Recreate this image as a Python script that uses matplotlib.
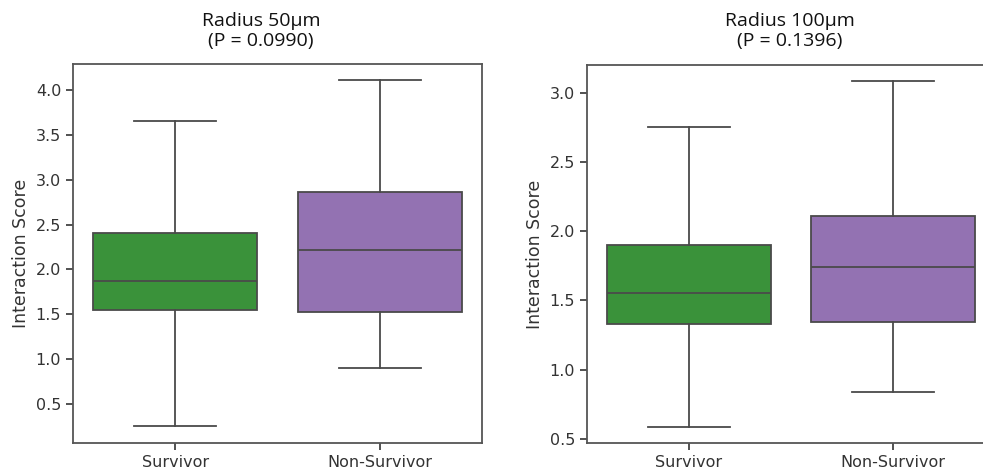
import matplotlib
matplotlib.use("Agg")
import matplotlib.pyplot as plt

# box statistics
groups = ["Survivor", "Non-Survivor"]

r50_whislo = [0.26, 0.90]
r50_q1 = [1.545, 1.52]
r50_med = [1.875, 2.22]
r50_q3 = [2.41, 2.86]
r50_whishi = [3.66, 4.11]

r100_whislo = [0.59, 0.84]
r100_q1 = [1.333, 1.342]
r100_med = [1.555, 1.742]
r100_q3 = [1.899, 2.108]
r100_whishi = [2.751, 3.082]

titles = ["Radius 50\u00b5m\n(P = 0.0990)", "Radius 100\u00b5m\n(P = 0.1396)"]

colors = ["#3a923a", "#9372b2"]
line_col = "#4a4a4a"


def make_stats(lo, q1, med, q3, hi):
    out = []
    for i in range(len(groups)):
        out.append({"whislo": lo[i], "q1": q1[i], "med": med[i],
                    "q3": q3[i], "whishi": hi[i], "fliers": [],
                    "label": groups[i]})
    return out


fig = plt.figure(figsize=(9.83, 4.73), dpi=100)
W, H = 983, 473
ax1 = fig.add_axes([73 / W, 1 - 443 / H, (482 - 73) / W, (443 - 64) / H])
ax2 = fig.add_axes([587 / W, 1 - 443 / H, (995 - 587) / W, (443 - 65) / H])

data = [make_stats(r50_whislo, r50_q1, r50_med, r50_q3, r50_whishi),
        make_stats(r100_whislo, r100_q1, r100_med, r100_q3, r100_whishi)]

for ax, st in zip([ax1, ax2], data):
    bp = ax.bxp(st, positions=range(len(groups)), widths=0.8,
                patch_artist=True, showfliers=False,
                boxprops=dict(linewidth=1.3, edgecolor=line_col),
                whiskerprops=dict(linewidth=1.3, color=line_col),
                capprops=dict(linewidth=1.3, color=line_col),
                medianprops=dict(linewidth=1.3, color=line_col))
    for patch, c in zip(bp["boxes"], colors):
        patch.set_facecolor(c)
    # caps as wide as seaborn draws them
    for j, cap in enumerate(bp["caps"]):
        cap.set_xdata([j // 2 - 0.2, j // 2 + 0.2])
    ax.set_xlim(-0.5, 1.5)
    ax.set_xticks(range(len(groups)))
    ax.set_xticklabels(groups)
    ax.set_ylabel("Interaction Score", fontsize=12.5, color="#333333")
    ax.tick_params(labelsize=11.5, colors="#333333", length=5, width=1.2)
    for sp in ax.spines.values():
        sp.set_color("#555555")
        sp.set_linewidth(1.3)

ax1.set_ylim(0.065, 4.29)
ax1.set_yticks([0.5, 1.0, 1.5, 2.0, 2.5, 3.0, 3.5, 4.0])
ax2.set_ylim(0.471, 3.20)
ax2.set_yticks([0.5, 1.0, 1.5, 2.0, 2.5, 3.0])

fig.text(261 / W, 1 - 31 / H, titles[0], ha="center", va="center",
         fontsize=14, family="Open Sans", linespacing=1.2, color="#111111")
fig.text(790 / W, 1 - 31 / H, titles[1], ha="center", va="center",
         fontsize=14, family="Open Sans", linespacing=1.2, color="#111111")

fig.savefig("out.png", dpi=100)
